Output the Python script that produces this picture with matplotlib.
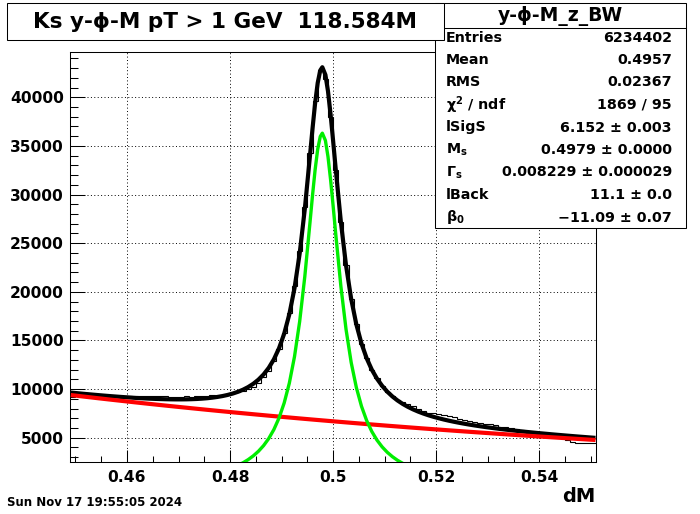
import numpy as np
import matplotlib.pyplot as plt
from matplotlib.patches import Rectangle
from matplotlib.lines import Line2D

plt.rcParams['font.family'] = ['DejaVu Sans']
plt.rcParams['font.weight'] = 'bold'
plt.rcParams['mathtext.default'] = 'bf'

# histogram: 102 bins of 0.001 between 0.449 and 0.551
bin_lo = 0.449
bin_hi = 0.551
counts = [9200, 9450, 9500, 9480, 9400, 9390, 9320, 9290, 9230, 9220,
          9250, 9260, 9230, 9240, 9250, 9290, 9260, 9250, 9240, 9220,
          9230, 9210, 9240, 9230, 9260, 9270, 9300, 9350, 9330, 9380,
          9450, 9550, 9650, 9820, 10000, 10250, 10650, 11200, 11900, 12900,
          14100, 15800, 17800, 20600, 24200, 28700, 34300, 39600, 42800, 41900,
          38000, 32500, 27200, 22800, 19300, 16700, 14600, 13200, 12000, 11100,
          10350, 9700, 9250, 8920, 8670, 8420, 8210, 7980, 7780, 7550,
          7490, 7450, 7360, 7240, 7080, 6930, 6810, 6690, 6610, 6480,
          6420, 6380, 6260, 6140, 6130, 6020, 5860, 5750, 5650, 5540,
          5570, 5440, 5360, 5320, 5200, 4950, 4750, 4600, 4480, 4450,
          4430, 4420]

# fit curves read at the bin centres
fit_total = [9620, 9569, 9518, 9470, 9422, 9376, 9331, 9287, 9246, 9206,
             9168, 9132, 9098, 9067, 9038, 9012, 8989, 8970, 8955, 8945,
             8939, 8939, 8945, 8959, 8981, 9013, 9056, 9114, 9187, 9278,
             9393, 9536, 9713, 9932, 10204, 10542, 10966, 11500, 12180, 13056,
             14196, 15697, 17693, 20364, 23918, 28507, 33985, 39389, 42772, 42311,
             38252, 32615, 27188, 22716, 19262, 16652, 14676, 13166, 11996, 11073,
             10334, 9733, 9238, 8824, 8473, 8172, 7912, 7684, 7483, 7304,
             7144, 6998, 6865, 6744, 6632, 6529, 6432, 6341, 6256, 6176,
             6099, 6027, 5959, 5892, 5829, 5767, 5709, 5652, 5597, 5543,
             5492, 5442, 5393, 5344, 5298, 5253, 5208, 5164, 5121, 5080,
             5038, 4998]
fit_signal = [261, 272, 283, 296, 309, 324, 339, 355, 373, 392,
              412, 434, 458, 484, 512, 543, 576, 613, 653, 698,
              747, 801, 861, 929, 1004, 1089, 1185, 1295, 1420, 1563,
              1729, 1923, 2150, 2419, 2741, 3129, 3602, 4185, 4914, 5838,
              7026, 8575, 10618, 13336, 16937, 21572, 27096, 32546, 35974, 35558,
              31544, 25952, 20569, 16141, 12731, 10164, 8231, 6764, 5636, 4755,
              4058, 3499, 3045, 2672, 2362, 2102, 1882, 1694, 1533, 1393,
              1272, 1165, 1071, 988, 914, 849, 790, 736, 688, 645,
              605, 569, 537, 506, 479, 453, 430, 408, 388, 369,
              352, 336, 321, 306, 293, 281, 269, 258, 248, 239,
              229, 221]
fit_back = [9359, 9297, 9235, 9174, 9113, 9052, 8992, 8932, 8873, 8814,
            8756, 8698, 8640, 8583, 8526, 8469, 8413, 8357, 8302, 8247,
            8192, 8138, 8084, 8030, 7977, 7924, 7871, 7819, 7767, 7715,
            7664, 7613, 7563, 7513, 7463, 7413, 7364, 7315, 7266, 7218,
            7170, 7122, 7075, 7028, 6981, 6935, 6889, 6843, 6798, 6753,
            6708, 6663, 6619, 6575, 6531, 6488, 6445, 6402, 6360, 6318,
            6276, 6234, 6193, 6152, 6111, 6070, 6030, 5990, 5950, 5911,
            5872, 5833, 5794, 5756, 5718, 5680, 5642, 5605, 5568, 5531,
            5494, 5458, 5422, 5386, 5350, 5314, 5279, 5244, 5209, 5174,
            5140, 5106, 5072, 5038, 5005, 4972, 4939, 4906, 4873, 4841,
            4809, 4777]

# a few more curve points around the peak
peak_x = [0.4960, 0.4970, 0.4979, 0.4990, 0.5000]
peak_total = [36798, 41476, 43093, 40622, 35495]
peak_signal = [29932, 34656, 36314, 33892, 28810]
peak_back = [6866, 6820, 6779, 6730, 6685]

title = 'Ks y-ϕ-M pT > 1 GeV  118.584M'
stat_title = 'y-ϕ-M_z_BW'
stat_names = ['Entries', 'Mean', 'RMS', 'χ$^{2}$ / ndf', 'lSigS',
              'M$_{s}$', 'Γ$_{s}$', 'lBack', 'β$_{0}$']
stat_values = ['6234402', '0.4957', '0.02367', '1869 / 95', '6.152 ± 0.003',
               '0.4979 ± 0.0000', '0.008229 ± 0.000029', '11.1 ± 0.0',
               '−11.09 ± 0.07']
date_text = 'Sun Nov 17 19:55:05 2024'

W, H = 700, 514
fig = plt.figure(figsize=(W / 100, H / 100), dpi=100)
ax = fig.add_axes([70.3 / W, 1 - 462.3 / H, (596 - 70.3) / W, (462.3 - 51.7) / H])

edges = np.linspace(bin_lo, bin_hi, len(counts) + 1)
centers = 0.5 * (edges[:-1] + edges[1:])

# merge the peak points into the curves
cx = np.concatenate([centers, peak_x])
order = np.argsort(cx)
cx = cx[order]
c_total = np.concatenate([fit_total, peak_total])[order]
c_signal = np.concatenate([fit_signal, peak_signal])[order]
c_back = np.concatenate([fit_back, peak_back])[order]

ax.stairs(counts, edges, color='black', lw=0.8, baseline=None, zorder=2)
ax.plot(cx, c_total, color='black', lw=3.0, zorder=3)
ax.plot(cx, c_back, color='#ff0000', lw=3.0, zorder=4)
ax.plot(cx, c_signal, color='#00ee00', lw=2.4, zorder=5)

ax.set_xlim(bin_lo, bin_hi)
ax.set_ylim(2470, 44690)
ax.set_xticks([0.46, 0.48, 0.50, 0.52, 0.54])
ax.set_xticklabels(['0.46', '0.48', '0.5', '0.52', '0.54'])
ax.set_xticks(np.arange(0.45, 0.5501, 0.005), minor=True)
ax.set_yticks(np.arange(5000, 40001, 5000))
ax.set_yticks(np.arange(3000, 44001, 1000), minor=True)
ax.tick_params(axis='both', which='both', direction='in', top=False, right=False,
               width=0.75, labelsize=11.2)
ax.tick_params(axis='y', which='major', length=11, pad=4.5)
ax.tick_params(axis='y', which='minor', length=5.5)
ax.tick_params(axis='x', which='major', length=8.6, pad=5.5)
ax.tick_params(axis='x', which='minor', length=4.3)
for lab in ax.get_xticklabels() + ax.get_yticklabels():
    lab.set_fontweight('bold')
ax.grid(True, which='major', color='black', lw=0.7, linestyle=(0, (1, 2.5)))
for sp in ax.spines.values():
    sp.set_linewidth(0.75)

fig.text(595 / W, 1 - 496 / H, 'dM', ha='right', va='center', fontsize=14, fontweight='bold')
fig.text(7 / W, 1 - 503 / H, date_text, ha='left', va='center', fontsize=8.5, fontweight='bold')


def box(x0, y0, x1, y1, z):
    fig.add_artist(Rectangle((x0 / W, 1 - y1 / H), (x1 - x0) / W, (y1 - y0) / H,
                             transform=fig.transFigure, facecolor='white',
                             edgecolor='black', lw=0.75, zorder=z))


# stats box
box(435, 3, 686, 228, 10)
fig.add_artist(Line2D([435 / W, 686 / W], [1 - 28 / H, 1 - 28 / H],
                      transform=fig.transFigure, color='black', lw=0.75, zorder=11))
fig.text(560 / W, 1 - 15.5 / H, stat_title, ha='center', va='center',
         fontsize=13.5, fontweight='bold', zorder=12)
for k in range(len(stat_names)):
    yy = 1 - (37.5 + 22.5 * k) / H
    fig.text(446 / W, yy, stat_names[k], ha='left', va='center',
             fontsize=10.3, fontweight='bold', zorder=12)
    fig.text(672 / W, yy, stat_values[k], ha='right', va='center',
             fontsize=10.3, fontweight='bold', zorder=12)

# title box drawn over the stats box
box(7, 3, 444, 40, 20)
fig.text(225 / W, 1 - 21.5 / H, title, ha='center', va='center',
         fontsize=15.5, fontweight='bold', zorder=21)

fig.savefig('out.png', dpi=100)
